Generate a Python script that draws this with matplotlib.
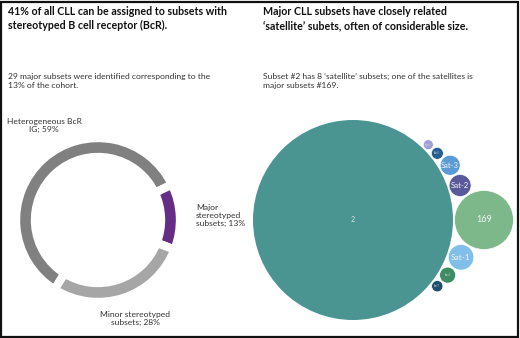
import numpy as np
import matplotlib
matplotlib.use("Agg")
import matplotlib.pyplot as plt
from matplotlib.patches import Circle, Rectangle

plt.rcParams["font.family"] = ["Lato", "DejaVu Sans"]

# donut: share of the CLL cohort
bcr_labels = ["Heterogeneous BcR\nIG; 59%", "Major\nstereotyped\nsubsets; 13%",
              "Minor stereotyped\nsubsets; 28%"]
bcr_share = [59, 13, 28]
bcr_colors = ["#808080", "#662d86", "#a6a6a6"]

# bubbles: subset #2 and its satellites (relative size)
main_name = "2"
main_size = 1000
sat_upper = ["169", "Sat-2", "Sat-3", "Sat-5", "Sat-6"]
sat_upper_size = [87, 12.1, 10, 3.6, 2.5]
sat_upper_colors = ["#7db88b", "#5a5a9a", "#5b9bd5", "#245f8f", "#9f9fd8"]
sat_lower = ["Sat-1", "Sat-4", "Sat-7"]
sat_lower_size = [16.4, 6.4, 3.2]
sat_lower_colors = ["#7fbfe9", "#3e8c64", "#1f4e6e"]
main_color = "#4a9592"

W, H = 520, 338
fig = plt.figure(figsize=(W / 100, H / 100), dpi=100)
fig.patch.set_facecolor("white")

def fx(px):
    return px / W

def fy(py):
    return 1 - py / H

# headers
fig.text(fx(8), fy(6), "41% of all CLL can be assigned to subsets with\nstereotyped B cell receptor (BcR).",
         ha="left", va="top", fontsize=7.7, fontweight="bold", linespacing=1.35, color="#111111")
fig.text(fx(263), fy(6), "Major CLL subsets have closely related\n\u2018satellite\u2019 subets, often of considerable size.",
         ha="left", va="top", fontsize=7.7, fontweight="bold", linespacing=1.35, color="#111111")
fig.text(fx(8), fy(73), "29 major subsets were identified corresponding to the\n13% of the cohort.",
         ha="left", va="top", fontsize=6.1, linespacing=1.25, color="#333333")
fig.text(fx(263), fy(73), "Subset #2 has 8 \u2018satellite\u2019 subsets; one of the satellites is\nmajor subsets #169.",
         ha="left", va="top", fontsize=6.1, linespacing=1.25, color="#333333")

# donut
cx, cy, R = 98, 220, 82
ax1 = fig.add_axes([fx(cx - 95), fy(cy + 95), 190 / W, 190 / H])
ax1.pie(bcr_share, colors=bcr_colors, startangle=238, counterclock=False, radius=R,
        wedgeprops=dict(width=19, edgecolor="white", linewidth=6))
ax1.set_xlim(-95, 95)
ax1.set_ylim(-95, 95)
ax1.set_aspect("equal")
ax1.axis("off")

fig.text(fx(44), fy(118), bcr_labels[0], ha="center", va="top", fontsize=6.1, linespacing=1.2, color="#333333")
fig.text(fx(196), fy(204), bcr_labels[1], ha="left", va="top", fontsize=6.1, linespacing=1.2, color="#333333")
fig.text(fx(135), fy(311), bcr_labels[2], ha="center", va="top", fontsize=6.1, linespacing=1.2, color="#333333")

# bubbles
ax2 = fig.add_axes([fx(240), 3 / H, 278 / W, 230 / H])
ax2.set_xlim(240, 518)
ax2.set_ylim(3, 233)
ax2.set_aspect("equal")
ax2.axis("off")

bx, by, BR = 353, H - 220, 100
gap = 1.5

def radius(n):
    return BR * np.sqrt(n / main_size)

def label_size(r):
    if r > 20:
        return 6.5
    if r > 9:
        return 3.5 + r * 0.2
    return 1.8

ax2.add_patch(Circle((bx, by), BR, color=main_color, ec="none"))
ax2.text(bx, by, main_name, ha="center", va="center", fontsize=5, color="#e0e0e0")

def place(names, sizes, colors, sign, start_angle=0.0, prev_r=None):
    ang = start_angle
    pr = prev_r
    for name, n, col in zip(names, sizes, colors):
        r = radius(n)
        d = BR + r + gap
        if pr is not None:
            dp = BR + pr + gap
            c = pr + r + gap
            ang += sign * np.degrees(np.arccos((dp ** 2 + d ** 2 - c ** 2) / (2 * dp * d)))
        x = bx + d * np.cos(np.radians(ang))
        y = by + d * np.sin(np.radians(ang))
        ax2.add_patch(Circle((x, y), r, color=col, ec="white", lw=0.5))
        ax2.text(x, y, name, ha="center", va="center", fontsize=label_size(r),
                 color="#f4f4f4" if r > 9 else "#dddddd")
        pr = r

place(sat_upper, sat_upper_size, sat_upper_colors, 1)
place(sat_lower, sat_lower_size, sat_lower_colors, -1, 0.0, radius(sat_upper_size[0]))

# frame
fig.patches.append(Rectangle((0.5 / W, 1.5 / H), (W - 2.5) / W, (H - 3) / H, transform=fig.transFigure,
                             fill=False, ec="#111111", lw=1.6))

fig.savefig("out.png", dpi=100)
